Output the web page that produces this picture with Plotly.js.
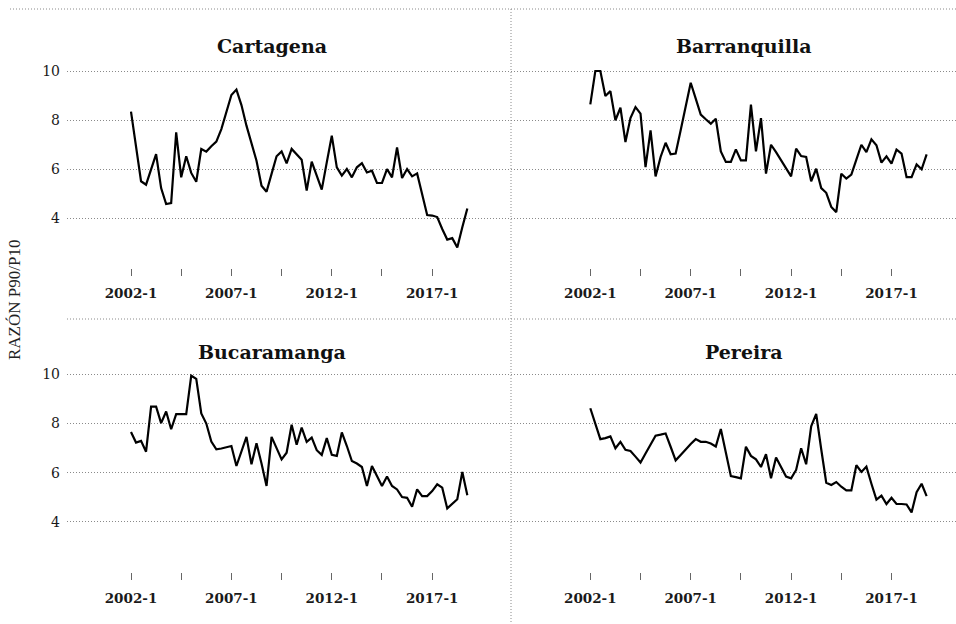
<!DOCTYPE html>
<html>
<head>
<meta charset="utf-8">
<script src="https://cdn.plot.ly/plotly-3.0.1.min.js"></script>
<style>html,body{margin:0;padding:0;background:#fff;}#chart{width:956px;height:624px;}</style>
</head>
<body>
<div id="chart"></div>
<script>
const periods = [
 "2002-1","2002-2","2002-3","2002-4","2003-1","2003-2","2003-3","2003-4",
 "2004-1","2004-2","2004-3","2004-4","2005-1","2005-2","2005-3","2005-4",
 "2006-1","2006-2","2006-3","2006-4","2007-1","2007-2","2007-3","2007-4",
 "2008-1","2008-2","2008-3","2008-4","2009-1","2009-2","2009-3","2009-4",
 "2010-1","2010-2","2010-3","2010-4","2011-1","2011-2","2011-3","2011-4",
 "2012-1","2012-2","2012-3","2012-4","2013-1","2013-2","2013-3","2013-4",
 "2014-1","2014-2","2014-3","2014-4","2015-1","2015-2","2015-3","2015-4",
 "2016-1","2016-2","2016-3","2016-4","2017-1","2017-2","2017-3","2017-4",
 "2018-1","2018-2","2018-3","2018-4"
];

const cartagena = [8.34, 6.90, 5.50, 5.36, 6.00, 6.61, 5.22, 4.57, 4.61, 7.50,
 5.66, 6.52, 5.84, 5.48, 6.82, 6.71, 6.93, 7.12, 7.63, 8.31,
 9.02, 9.24, 8.61, 7.77, 7.09, 6.34, 5.32, 5.07, 5.80, 6.52,
 6.72, 6.23, 6.82, 6.61, 6.38, 5.12, 6.30, 5.73, 5.16, 6.27,
 7.36, 6.07, 5.73, 6.00, 5.66, 6.07, 6.24, 5.86, 5.93, 5.43,
 5.43, 6.00, 5.66, 6.88, 5.63, 6.00, 5.70, 5.82, 4.98, 4.12,
 4.10, 4.04, 3.55, 3.12, 3.18, 2.80, 3.62, 4.39];

const barranquilla = [8.64, 10.0, 10.0, 8.98, 9.18, 7.99, 8.50, 7.10, 8.08, 8.53,
 8.26, 6.08, 7.58, 5.70, 6.49, 7.07, 6.60, 6.63, 7.58, 8.53,
 9.52, 8.87, 8.22, 8.03, 7.85, 8.05, 6.72, 6.29, 6.29, 6.80,
 6.35, 6.35, 8.63, 6.72, 8.08, 5.81, 6.99, 6.69, 6.35, 6.04,
 5.70, 6.83, 6.53, 6.49, 5.50, 6.01, 5.22, 5.03, 4.45, 4.24,
 5.81, 5.61, 5.77, 6.38, 6.99, 6.69, 7.21, 6.97, 6.26, 6.52,
 6.22, 6.79, 6.63, 5.67, 5.67, 6.19, 5.99, 6.60];

const bucaramanga = [7.65, 7.22, 7.29, 6.85, 8.68, 8.68, 8.01, 8.48, 7.76, 8.37,
 8.37, 8.37, 9.93, 9.80, 8.40, 7.99, 7.26, 6.95, 6.98, 7.04,
 7.08, 6.27, 6.85, 7.45, 6.34, 7.19, 6.37, 5.46, 7.45, 6.99,
 6.54, 6.81, 7.94, 7.13, 7.83, 7.25, 7.42, 6.91, 6.72, 7.40,
 6.72, 6.68, 7.63, 7.08, 6.47, 6.37, 6.23, 5.46, 6.27, 5.86,
 5.46, 5.84, 5.46, 5.32, 5.01, 4.98, 4.62, 5.32, 5.05, 5.05,
 5.25, 5.53, 5.39, 4.55, 4.74, 4.92, 6.03, 5.08];

const pereira = [8.61, 7.97, 7.36, 7.40, 7.47, 6.99, 7.25, 6.93, 6.88, 6.65,
 6.41, 6.78, 7.16, 7.50, 7.54, 7.59, 7.05, 6.50, 6.72, 6.95,
 7.16, 7.36, 7.25, 7.25, 7.18, 7.06, 7.77, 6.82, 5.86, 5.82,
 5.77, 7.05, 6.68, 6.54, 6.23, 6.75, 5.77, 6.61, 6.20, 5.84,
 5.77, 6.11, 6.99, 6.34, 7.88, 8.38, 6.95, 5.59, 5.50, 5.62,
 5.43, 5.28, 5.28, 6.30, 6.03, 6.24, 5.55, 4.91, 5.07, 4.73,
 4.98, 4.73, 4.73, 4.71, 4.39, 5.21, 5.55, 5.05];

const cities = ["Cartagena", "Barranquilla", "Bucaramanga", "Pereira"];
const seriesList = [cartagena, barranquilla, bucaramanga, pereira];

const tickVals = ["2002-1","2004-3","2007-1","2009-3","2012-1","2014-3","2017-1"];
const tickText = ["2002-1","","2007-1","","2012-1","","2017-1"];
const yTickVals = [2, 4, 6, 8, 10];
const yTickText = ["", "4", "6", "8", "10"];
const yTitle = "RAZÓN P90/P10";

const W = 956, H = 624;
const GRID = "#8a8a8a";
const DOTS = "1px,2px";

const traces = seriesList.map((vals, k) => ({
  type: "scatter", mode: "lines",
  x: periods, y: vals,
  xaxis: k === 0 ? "x" : "x" + (k + 1),
  yaxis: k === 0 ? "y" : "y" + (k + 1),
  line: {color: "#000", width: 2.2},
  hoverinfo: "x+y", showlegend: false
}));

const xDomL = [67 / W, 511 / W], xDomR = [511 / W, 1];
const xRngL = [-12.75, 75.7], xRngR = [-15.8, 72.85];
const yDomT = [1 - 268 / H, 1 - 63.65 / H], yDomB = [1 - 572.3 / H, 1 - 366.6 / H];
const yRng = [1.96, 10.3];

function xax(dom, rng, anchor) {
  return {
    domain: dom, range: rng, anchor: anchor, type: "category",
    tickmode: "array", tickvals: tickVals, ticktext: tickText,
    ticks: "outside", ticklen: 7, tickwidth: 1, tickcolor: "#666",
    showgrid: false, zeroline: false, showline: false,
    tickfont: {family: "DejaVu Serif", size: 13.5, color: "#1a1a1a", weight: "bold"},
    ticklabelstandoff: 6
  };
}
function yax(dom, anchor, showLabels) {
  return {
    domain: dom, range: yRng, anchor: anchor,
    tickmode: "array", tickvals: yTickVals, ticktext: yTickText,
    ticks: "", showticklabels: showLabels,
    showgrid: true, gridcolor: GRID, gridwidth: 1, griddash: DOTS,
    zeroline: false, showline: false,
    tickfont: {family: "DejaVu Serif", size: 14, color: "#1a1a1a"},
    ticklabelstandoff: 6
  };
}

function lineShape(x0, y0, x1, y1) {
  return {type: "line", xref: "paper", yref: "paper",
    x0: x0 / W, y0: 1 - y0 / H, x1: x1 / W, y1: 1 - y1 / H,
    line: {color: GRID, width: 1, dash: DOTS}};
}

const titlePos = [[271.7, 46], [743.5, 46], [271.7, 352], [743.6, 352]];
const annotations = cities.map((c, k) => ({
  text: "<b>" + c + "</b>", xref: "paper", yref: "paper",
  x: titlePos[k][0] / W, y: 1 - titlePos[k][1] / H,
  xanchor: "center", yanchor: "middle", showarrow: false,
  font: {family: "DejaVu Serif", size: 19, color: "#111"}
}));
annotations.push({
  text: yTitle, xref: "paper", yref: "paper",
  x: 14 / W, y: 1 - 300 / H, xanchor: "center", yanchor: "middle",
  textangle: -90, showarrow: false,
  font: {family: "Liberation Serif", size: 17, color: "#222"}
});

const layout = {
  width: W, height: H, margin: {l: 0, r: 0, t: 0, b: 0},
  paper_bgcolor: "#fff", plot_bgcolor: "rgba(0,0,0,0)",
  showlegend: false,
  xaxis: xax(xDomL, xRngL, "y"),
  yaxis: yax(yDomT, "x", true),
  xaxis2: xax(xDomR, xRngR, "y2"),
  yaxis2: yax(yDomT, "x2", false),
  xaxis3: xax(xDomL, xRngL, "y3"),
  yaxis3: yax(yDomB, "x3", true),
  xaxis4: xax(xDomR, xRngR, "y4"),
  yaxis4: yax(yDomB, "x4", false),
  shapes: [
    lineShape(10, 9, 956, 9),
    lineShape(67, 319, 956, 319),
    lineShape(511, 9, 511, 624)
  ],
  annotations: annotations
};

Plotly.newPlot("chart", traces, layout, {displayModeBar: false, staticPlot: true});
</script>
</body>
</html>
